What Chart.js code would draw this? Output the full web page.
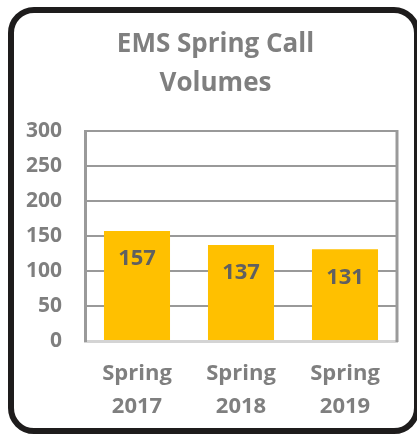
<!DOCTYPE html>
<html>
<head>
<meta charset="utf-8">
<script src="https://cdn.jsdelivr.net/npm/chart.js@4"></script>
<style>
  html, body { margin: 0; padding: 0; background: #fff; overflow: hidden; }
  #wrap { position: absolute; left: 0; top: 0; width: 417px; height: 435px; }
  #frame {
    position: absolute; left: 8px; top: 7px; width: 412px; height: 427px;
    box-sizing: border-box; border: 6px solid #1e1c1c; border-radius: 26px;
    pointer-events: none;
  }
</style>
</head>
<body>
<div id="wrap"><canvas id="callChart" width="417" height="435"></canvas></div>
<div id="frame"></div>
<script>
const categories = [['Spring', '2017'], ['Spring', '2018'], ['Spring', '2019']];
const callVolumes = [157, 137, 131];
const yTicks = [0, 50, 100, 150, 200, 250, 300];

const FONT = '"Open Sans", Lato, sans-serif';
const GRAY = '#7f7f7f';

// value labels drawn inside the top of each bar
const barLabels = {
    id: 'barLabels',
    afterDatasetsDraw(chart) {
        const ctx = chart.ctx;
        const meta = chart.getDatasetMeta(0);
        ctx.save();
        ctx.font = 'bold 22px ' + FONT;
        ctx.fillStyle = '#606060';
        ctx.textAlign = 'center';
        ctx.textBaseline = 'middle';
        meta.data.forEach((bar, i) => {
            ctx.fillText(callVolumes[i], bar.x, bar.y + 28);
        });
        ctx.restore();
    }
};

// right edge of the plot box; also let y labels use the left padding
const plotBox = {
    id: 'plotBox',
    afterLayout(chart) {
        chart.scales.y.left = 0;
    },
    afterDraw(chart) {
        const { ctx, chartArea } = chart;
        ctx.save();
        ctx.strokeStyle = '#9a9a9a';
        ctx.lineWidth = 3;
        ctx.beginPath();
        ctx.moveTo(chartArea.right, chartArea.top - 1);
        ctx.lineTo(chartArea.right, chartArea.bottom + 1);
        ctx.stroke();
        ctx.restore();
    }
};

new Chart(document.getElementById('callChart').getContext('2d'), {
    type: 'bar',
    data: {
        labels: categories,
        datasets: [{
            label: 'Calls',
            data: callVolumes,
            backgroundColor: '#FFC000',
            borderWidth: 0,
            barPercentage: 0.635,
            categoryPercentage: 1
        }]
    },
    options: {
        responsive: false,
        animation: false,
        layout: { padding: { left: 34, right: 20, top: 25, bottom: 10 } },
        plugins: {
            legend: { display: false },
            tooltip: { enabled: false },
            title: {
                display: true,
                text: ['EMS Spring Call', 'Volumes'],
                color: GRAY,
                font: { family: FONT, size: 26, weight: 'bold', lineHeight: 1.5 },
                padding: { top: 0, bottom: 28 }
            }
        },
        scales: {
            x: {
                grid: { display: false, drawTicks: false },
                border: { color: '#d4d4d4', width: 3 },
                ticks: {
                    color: GRAY,
                    font: { family: FONT, size: 22, weight: 'bold', lineHeight: 1.5 },
                    padding: 16,
                    maxRotation: 0
                },
                afterFit(scale) { scale.height = 435 - 341 - 10; }
            },
            y: {
                min: 0,
                max: 300,
                afterBuildTicks(scale) { scale.ticks = yTicks.map(v => ({ value: v })); },
                grid: { color: '#999999', lineWidth: 2, drawTicks: false },
                border: { color: '#9a9a9a', width: 3 },
                ticks: {
                    color: GRAY,
                    font: { family: FONT, size: 21, weight: 'bold' },
                    padding: 23
                },
                afterFit(scale) { scale.width = 85 - 34; }
            }
        }
    },
    plugins: [barLabels, plotBox]
});
</script>
</body>
</html>
